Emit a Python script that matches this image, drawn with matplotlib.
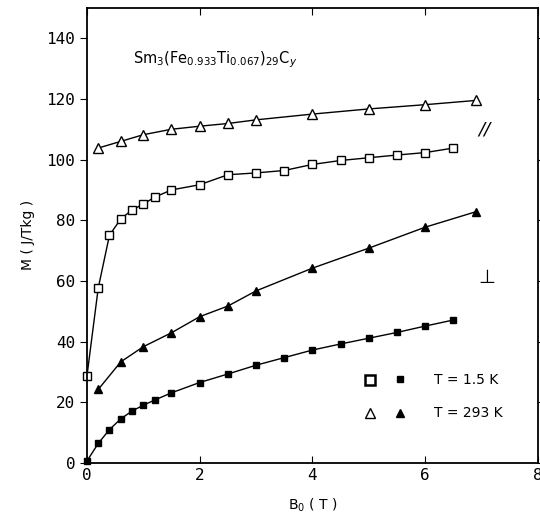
import matplotlib.pyplot as plt

# field values (T) and magnetisation (J/Tkg)
b_par_15 = [0.0, 0.2, 0.4, 0.6, 0.8, 1.0, 1.2, 1.5, 2.0, 2.5, 3.0, 3.5, 4.0, 4.5, 5.0, 5.5, 6.0, 6.5]
m_par_15 = [28.6, 57.6, 75.1, 80.4, 83.4, 85.3, 87.6, 90.0, 91.7, 95.0, 95.6, 96.4, 98.4, 99.7, 100.6, 101.5, 102.3, 103.8]

b_perp_15 = [0.0, 0.2, 0.4, 0.6, 0.8, 1.0, 1.2, 1.5, 2.0, 2.5, 3.0, 3.5, 4.0, 4.5, 5.0, 5.5, 6.0, 6.5]
m_perp_15 = [0.6, 6.4, 11.0, 14.5, 17.1, 19.0, 20.7, 23.1, 26.5, 29.3, 32.2, 34.7, 37.2, 39.2, 41.1, 43.0, 45.1, 47.1]

b_par_293 = [0.2, 0.6, 1.0, 1.5, 2.0, 2.5, 3.0, 4.0, 5.0, 6.0, 6.9]
m_par_293 = [103.8, 106.0, 108.2, 110.0, 111.0, 111.9, 113.1, 115.0, 116.7, 118.1, 119.5]

b_perp_293 = [0.2, 0.6, 1.0, 1.5, 2.0, 2.5, 3.0, 4.0, 5.0, 6.0, 6.9]
m_perp_293 = [24.2, 33.3, 38.3, 42.9, 48.2, 51.7, 56.7, 64.2, 70.8, 77.7, 82.8]

x_ticks = [0, 2, 4, 6, 8]
y_ticks = [0, 20, 40, 60, 80, 100, 120, 140]

fig = plt.figure(figsize=(5.4, 5.29), dpi=100)
ax = fig.add_axes([0.161, 0.125, 0.835, 0.86])

ax.plot(b_par_15, m_par_15, '-', color='black', lw=1, marker='s', ms=5.5,
        mfc='white', mec='black', mew=1, clip_on=False)
ax.plot(b_perp_15, m_perp_15, '-', color='black', lw=1, marker='s', ms=4.3,
        mfc='black', mec='black', clip_on=False)
ax.plot(b_par_293, m_par_293, '-', color='black', lw=1, marker='^', ms=7,
        mfc='white', mec='black', mew=1, clip_on=False)
ax.plot(b_perp_293, m_perp_293, '-', color='black', lw=1, marker='^', ms=6,
        mfc='black', mec='black', clip_on=False)

# legend drawn by hand
ax.plot([5.03], [27.3], 's', ms=7, mfc='white', mec='black', mew=1.8)
ax.plot([5.55], [27.5], 's', ms=4.5, mfc='black', mec='black')
ax.text(6.15, 27.4, 'T = 1.5 K', fontsize=10, va='center', family='DejaVu Sans')
ax.plot([5.03], [16.6], '^', ms=6.5, mfc='white', mec='black', mew=1)
ax.plot([5.55], [16.4], '^', ms=6, mfc='black', mec='black')
ax.text(6.15, 16.4, 'T = 293 K', fontsize=10, va='center', family='DejaVu Sans')

ax.text(0.82, 133, r'Sm$_3$(Fe$_{0.933}$Ti$_{0.067}$)$_{29}$C$_y$', fontsize=10.5, va='center')
ax.text(6.95, 110, '//', fontsize=13, style='italic', va='center')
ax.text(6.95, 61, '\u22a5', fontsize=14, va='center')

ax.set_xlim(0, 8)
ax.set_ylim(0, 150)
ax.set_xticks(x_ticks)
ax.set_yticks(y_ticks)
for lab in ax.get_xticklabels() + ax.get_yticklabels():
    lab.set_family('DejaVu Sans Mono')
    lab.set_fontsize(11.5)
ax.tick_params(axis='both', direction='in', length=5, top=True, right=True)
ax.tick_params(axis='y', direction='out', labelleft=True)
ax.yaxis.set_tick_params(which='major', right=True)
for side in ax.spines.values():
    side.set_linewidth(1.3)

ax.set_xlabel('B$_0$ ( T )', fontsize=10, labelpad=10)
ax.set_ylabel('M ( J/Tkg )', fontsize=10, labelpad=8)

fig.savefig('out.png', dpi=100)
